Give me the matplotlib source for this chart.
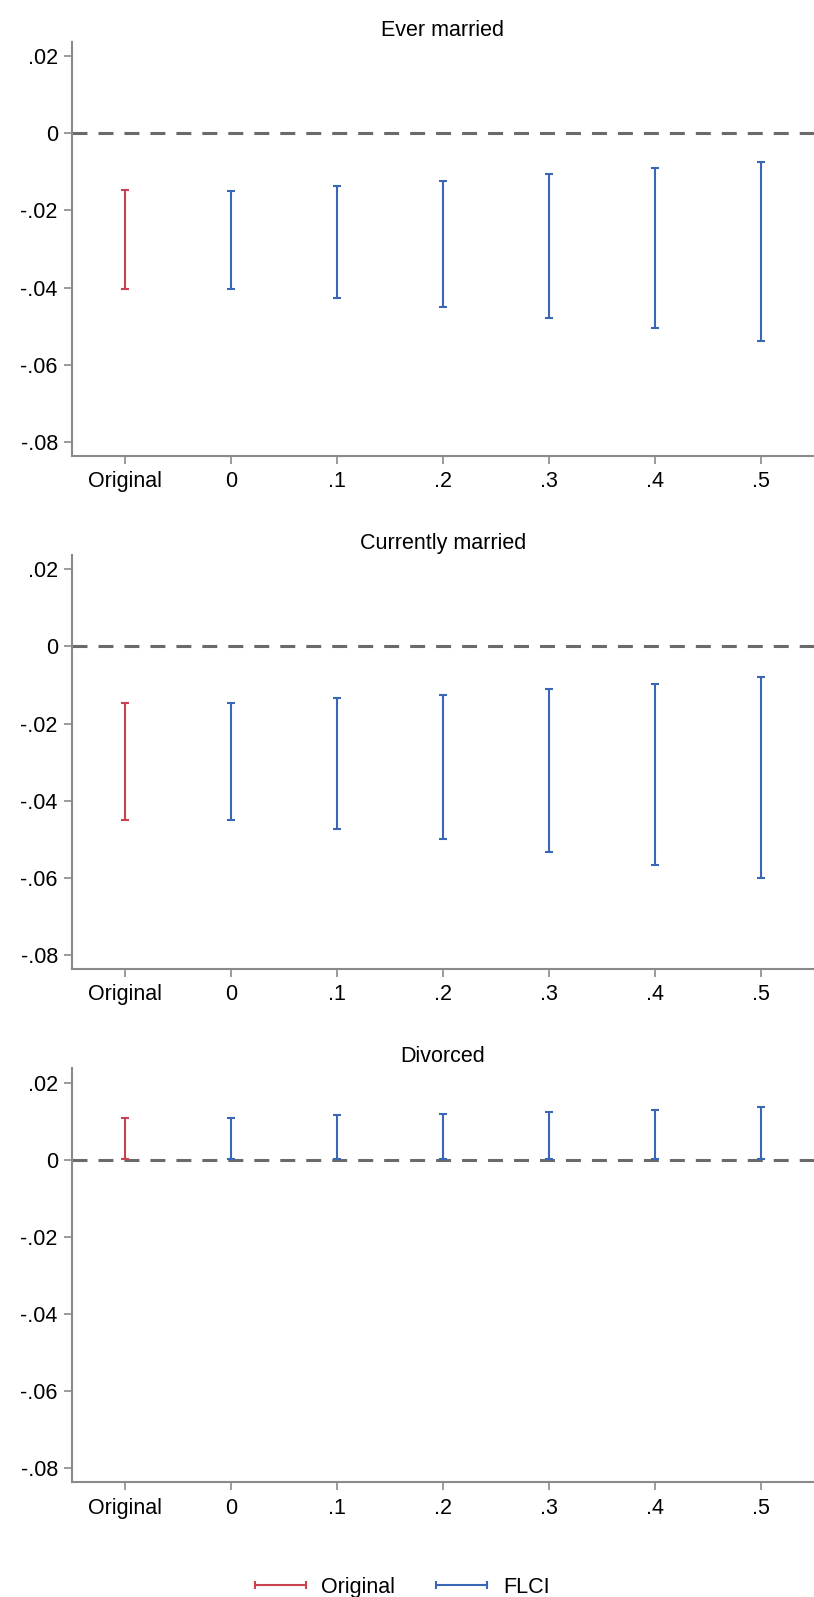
import numpy as np
import matplotlib
matplotlib.use('Agg')
import matplotlib.pyplot as plt
from matplotlib.lines import Line2D

# Dane: przedziały ufności (dolna / górna granica) dla kolejnych wartości M
categories = ['Original', '0', '.1', '.2', '.3', '.4', '.5']
panel_titles = ['Ever married', 'Currently married', 'Divorced']

ever_lo = [-0.0403, -0.0403, -0.0426, -0.0450, -0.0478, -0.0506, -0.0539]
ever_hi = [-0.0147, -0.0149, -0.0136, -0.0124, -0.0106, -0.0091, -0.0074]

curr_lo = [-0.0449, -0.0449, -0.0473, -0.0500, -0.0534, -0.0566, -0.0601]
curr_hi = [-0.0147, -0.0147, -0.0135, -0.0127, -0.0110, -0.0097, -0.0078]

div_lo = [0.0002, 0.0002, 0.0002, 0.0002, 0.0002, 0.0002, 0.0002]
div_hi = [0.0109, 0.0109, 0.0116, 0.0119, 0.0125, 0.0130, 0.0137]

ytick_vals = [-0.08, -0.06, -0.04, -0.02, 0, 0.02]
ytick_labels = ['-.08', '-.06', '-.04', '-.02', '0', '.02']

red = '#c8434f'
blue = '#3a66b8'
axis_grey = '#8a8a8a'

plt.rcParams['font.family'] = ['Liberation Sans', 'DejaVu Sans']
fs = 15.5

fig = plt.figure(figsize=(8.14, 15.97), dpi=100)

# pozycje osi (w ułamkach figury)
left = 0.0881
width = 1.0 - left
bottoms = [0.7145, 0.3932, 0.0718]
height = 0.2592

data = [(ever_lo, ever_hi), (curr_lo, curr_hi), (div_lo, div_hi)]
x = np.arange(len(categories))

for i, (lo, hi) in enumerate(data):
    ax = fig.add_axes([left, bottoms[i], width, height])
    lo = np.array(lo)
    hi = np.array(hi)
    ax.axhline(0, color='#6a6a6a', lw=2.2, linestyle=(0, (4.9, 3.6)), zorder=1)
    # pierwszy przedział (Original) na czerwono, reszta FLCI na niebiesko
    ax.errorbar(x[:1], lo[:1], yerr=[np.zeros(1), (hi - lo)[:1]], fmt='none',
                ecolor=red, elinewidth=1.5, capsize=2.6, capthick=1.5, zorder=3)
    ax.errorbar(x[1:], lo[1:], yerr=[np.zeros(len(x) - 1), (hi - lo)[1:]], fmt='none',
                ecolor=blue, elinewidth=1.5, capsize=2.6, capthick=1.5, zorder=3)

    ax.set_xlim(-0.5, 6.5)
    ax.set_ylim(-0.0837, 0.0237)
    ax.set_xticks(x)
    ax.set_xticklabels(categories)
    ax.set_yticks(ytick_vals)
    ax.set_yticklabels(ytick_labels)
    ax.tick_params(axis='both', labelsize=fs, length=6, width=1.2, color=axis_grey)
    ax.tick_params(axis='x', pad=5)
    ax.tick_params(axis='y', pad=4)
    for s in ['top', 'right']:
        ax.spines[s].set_visible(False)
    for s in ['left', 'bottom']:
        ax.spines[s].set_color(axis_grey)
        ax.spines[s].set_linewidth(1.5)
    ax.set_title(panel_titles[i], fontsize=fs, pad=4.5)

handles = [
    Line2D([0], [0], color=red, lw=1.5, marker='|', markersize=6, markeredgewidth=1.5),
    Line2D([0], [0], color=blue, lw=1.5, marker='|', markersize=6, markeredgewidth=1.5),
]
fig.legend(handles, ['Original', 'FLCI'], loc='center', bbox_to_anchor=(0.49, 0.006),
           ncol=2, frameon=False, fontsize=fs, numpoints=2, handlelength=2.97,
           handletextpad=0.43, columnspacing=1.6)

fig.savefig('out.png', dpi=100)
